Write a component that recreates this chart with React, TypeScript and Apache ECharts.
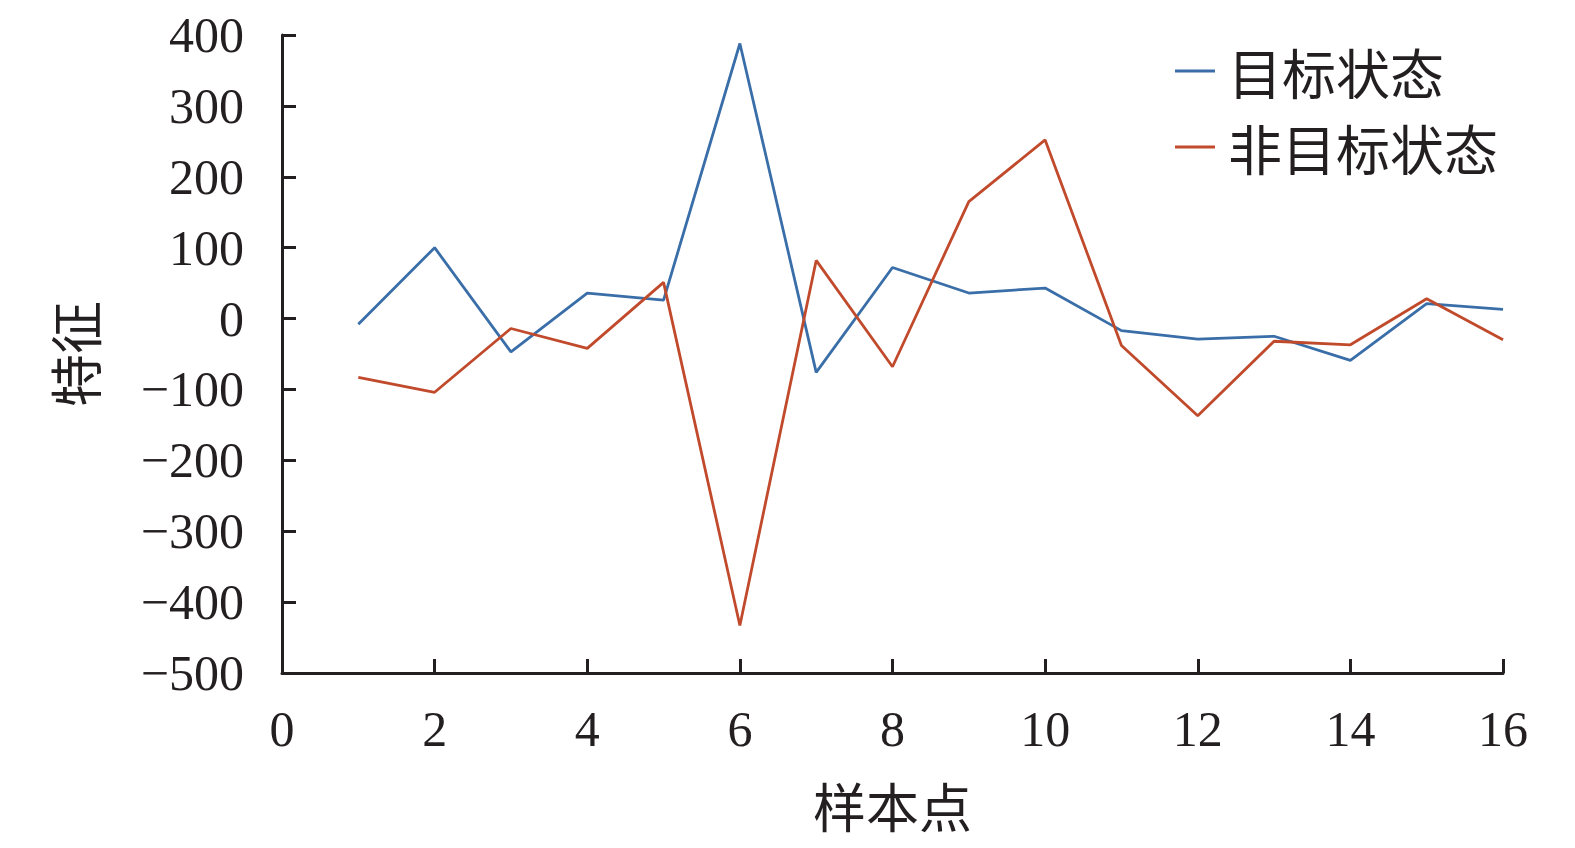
import React, { useEffect, useRef } from "react";
import * as echarts from "echarts";

const xValues = [1, 2, 3, 4, 5, 6, 7, 8, 9, 10, 11, 12, 13, 14, 15, 16];
const targetState = [-8, 100, -47, 36, 26, 388, -76, 72, 36, 43, -17, -29, -25, -59, 21, 13];
const nonTargetState = [-83, -104, -14, -42, 51, -433, 82, -68, 165, 252, -38, -137, -32, -37, 28, -30];
const seriesNames = ["目标状态", "非目标状态"];
const xAxisName = "样本点";
const yAxisName = "特征";

const serif = "'Liberation Serif', 'DejaVu Serif', serif";
const cjk = "'Noto Sans CJK SC', sans-serif";

export default function App() {
  const ref = useRef<HTMLDivElement>(null);
  useEffect(() => {
    if (!ref.current) return;
    const chart = echarts.init(ref.current, null, { renderer: "svg" });
    const axisLine = { show: true, onZero: false, lineStyle: { color: "#231f20", width: 3 } };
    chart.setOption({
      animation: false,
      backgroundColor: "#ffffff",
      grid: { left: 282, right: 72, top: 35, bottom: 175 },
      legend: {
        orient: "vertical",
        left: 1170,
        top: 39,
        itemWidth: 40,
        itemHeight: 3,
        itemGap: 22,
        icon: "rect",
        textStyle: {
          fontFamily: cjk,
          fontSize: 54,
          lineHeight: 54,
          color: "#231f20",
          padding: [0, 0, 0, 8],
        },
        data: seriesNames,
      },
      xAxis: {
        type: "value",
        min: 0,
        max: 16,
        interval: 2,
        name: xAxisName,
        nameLocation: "middle",
        nameGap: 105,
        nameTextStyle: { fontFamily: cjk, fontSize: 53, color: "#231f20" },
        axisLine,
        axisTick: { show: true, inside: true, length: 14, lineStyle: { color: "#231f20", width: 3 } },
        axisLabel: { fontFamily: serif, fontSize: 50, color: "#231f20", margin: 31 },
        splitLine: { show: false },
      },
      yAxis: {
        type: "value",
        min: -500,
        max: 400,
        interval: 100,
        name: yAxisName,
        nameLocation: "middle",
        nameGap: 182,
        nameRotate: 90,
        nameTextStyle: { fontFamily: cjk, fontSize: 53, color: "#231f20" },
        axisLine,
        axisTick: { show: true, inside: true, length: 14, lineStyle: { color: "#231f20", width: 3 } },
        axisLabel: {
          fontFamily: serif,
          fontSize: 50,
          color: "#231f20",
          margin: 38,
          padding: [0, 0, 5, 0],
          formatter: (v: number) => String(v).replace("-", "\u2212"),
        },
        splitLine: { show: false },
      },
      series: [
        {
          name: seriesNames[0],
          type: "line",
          data: xValues.map((x, i) => [x, targetState[i]]),
          symbol: "none",
          lineStyle: { color: "#3a6ea8", width: 2.8 },
          itemStyle: { color: "#3a6ea8" },
        },
        {
          name: seriesNames[1],
          type: "line",
          data: xValues.map((x, i) => [x, nonTargetState[i]]),
          symbol: "none",
          lineStyle: { color: "#c04a2b", width: 2.8 },
          itemStyle: { color: "#c04a2b" },
        },
      ],
    });
    return () => chart.dispose();
  }, []);
  return <div ref={ref} style={{ width: 1575, height: 848, position: "absolute", left: 0, top: 0 }} />;
}
